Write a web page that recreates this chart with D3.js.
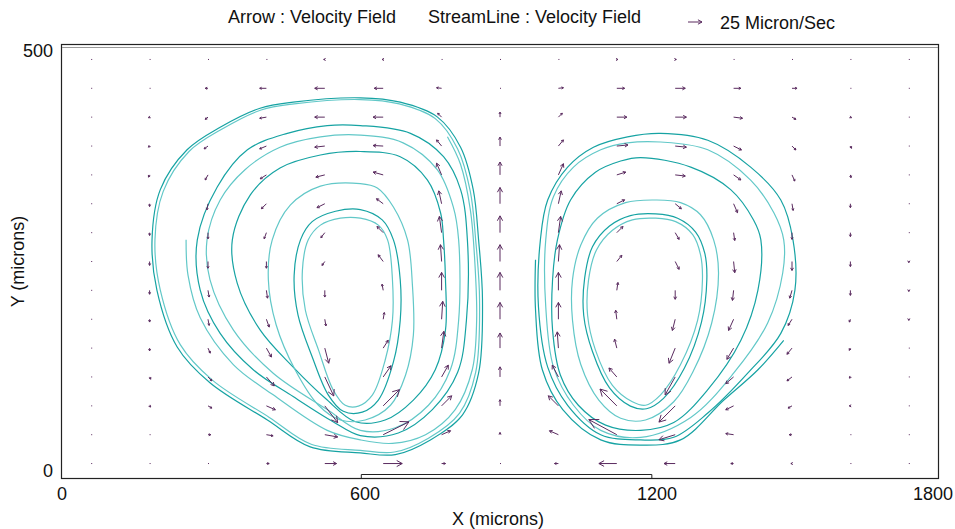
<!DOCTYPE html>
<html>
<head>
<meta charset="utf-8">
<script src="https://cdn.jsdelivr.net/npm/d3@7/dist/d3.min.js"></script>
<style>
body { margin: 0; background: #fff; }
text { font-family: "Liberation Sans", Arial, sans-serif; }
</style>
</head>
<body>
<div id="chart"></div>
<script>
// grid of arrow positions (microns)
var gridX = [60, 180, 300, 420, 540, 660, 780, 900, 1020, 1140, 1260, 1380, 1500, 1620, 1740];
var gridY = [483.3, 450, 416.7, 383.3, 350, 316.7, 283.3, 250, 216.7, 183.3, 150, 116.7, 83.3, 50, 16.7];

// velocity (micron/sec), rows top -> bottom
var velU = [
	[0,0,0,0,-2,-2,0,0,0,2,2,0,0,0,0],
	[0,0,-5,-12,-18,-16,-9,0,9,14,18,13,9,1,0],
	[0,-2,-5,-12,-18,-18,-7,0,7,18,20,16,7,2,0],
	[0,-2,-7,-12,-18,-18,-9,0,9,20,20,14,7,2,0],
	[0,-2,-5,-11,-16,-18,-9,0,9,16,18,13,5,1,0],
	[0,0,-2,-9,-14,-12,-5,0,5,14,11,7,2,0,0],
	[0,0,0,-4,-7,-11,-4,0,4,11,7,2,0,0,0],
	[0,0,0,0,-5,-9,-2,0,2,9,7,2,0,0,0],
	[0,0,2,2,0,-2,0,0,0,2,0,-2,-4,0,0],
	[0,0,2,5,2,2,2,0,0,-2,-5,-9,-7,-2,0],
	[0,0,4,9,7,9,4,0,-2,-4,-11,-12,-9,-2,0],
	[0,2,7,14,16,14,12,0,-11,-14,-18,-14,-9,-2,0],
	[0,2,7,16,23,29,18,0,-18,-30,-29,-14,-7,-2,0],
	[0,0,5,12,23,46,16,0,-16,-50,-29,-14,-5,-1,0],
	[0,0,0,5,21,34,7,0,-7,-32,-20,-5,-2,0,0]
];
var velV = [
	[0,0,0,0,0,0,0,0,0,0,0,0,0,0,0],
	[0,0,0,0,0,0,1,0,1,0,0,0,0,0,0],
	[0,-1,-4,-2,0,0,7,9,7,0,0,-2,-4,-1,0],
	[0,-2,-5,-5,-2,1,11,16,11,2,-2,-7,-7,-4,0],
	[0,-4,-9,-7,-4,5,21,23,20,5,-2,-9,-11,-5,0],
	[0,-5,-11,-9,-7,9,23,29,23,7,-9,-16,-12,-7,0],
	[0,-5,-11,-11,-9,11,29,30,29,11,-12,-14,-12,-7,0],
	[0,-7,-12,-12,-7,12,30,30,30,11,-14,-20,-16,-9,-2],
	[0,-7,-12,-14,-12,11,32,32,32,14,-16,-18,-14,-9,-2],
	[0,-5,-11,-14,-12,12,32,30,30,16,-20,-20,-11,-5,-2],
	[0,-5,-9,-16,-27,14,30,27,29,16,-27,-20,-11,-4,0],
	[0,-4,-7,-16,-34,20,21,18,21,16,-32,-12,-7,-2,0],
	[0,-2,-4,-7,-30,29,18,11,18,30,-29,-7,-4,0,0],
	[0,0,0,-2,-4,23,7,4,7,27,-9,2,0,0,0],
	[0,0,0,0,0,0,0,0,0,0,0,0,0,0,0]
];

// streamlines (microns)
var leftA1 = [[185,275],[202,333],[257,379],[325,405],[407,427],[475,434],[613,439],[695,434],[771,417],[819,382],[845,333],[856,275],[864,206],[856,121],[823,73],[757,44],[685,27],[613,29],[510,36],[422,67],[304,110],[237,151],[195,217]];
var leftA2 = [[191,275],[208,331],[261,377],[329,403],[409,425],[477,432],[613,437],[693,432],[767,415],[813,380],[839,331],[850,275],[858,206],[850,122],[817,75],[753,46],[683,30],[613,32],[512,39],[426,70],[309,113],[243,154],[202,217]];
var leftSpiral = [[792,394],[819,362],[839,310],[848,252],[852,182],[843,125],[808,79],[747,50],[679,40],[613,44],[545,55],[434,96],[352,131],[284,185],[259,234],[255,275]];
var leftB1 = [[278,275],[284,217],[325,167],[393,125],[475,94],[557,65],[613,49],[691,52],[761,79],[813,122],[831,182],[833,275],[819,333],[784,371],[716,398],[613,407],[545,407],[463,398],[381,379],[319,336]];
var leftB2 = [[298,275],[304,229],[352,171],[434,121],[545,79],[613,55],[685,58],[753,84],[798,125],[815,182],[815,275],[804,313],[771,356],[701,387],[613,396],[531,394],[448,382],[376,356],[325,321]];
var leftB3 = [[350,275],[360,225],[407,171],[475,128],[541,92],[603,65],[664,67],[722,90],[767,125],[788,171],[788,229],[784,275],[778,306],[751,344],[695,371],[613,377],[531,373],[448,358],[387,327]];
var leftC = [[432,275],[424,229],[440,177],[479,125],[527,84],[572,67],[623,67],[675,84],[706,119],[722,165],[720,223],[710,275],[681,313],[648,335],[613,340],[531,337],[469,315]];
var leftD1 = [[490,275],[477,234],[485,188],[514,140],[547,96],[578,77],[617,76],[650,90],[681,134],[695,182],[695,229],[681,275],[658,298],[613,310],[562,308],[514,296]];
var leftD2 = [[506,275],[494,240],[500,194],[527,148],[557,102],[582,84],[609,83],[638,96],[664,136],[679,182],[679,229],[669,275],[650,292],[613,300],[572,300],[531,292]];

var rightR1 = [[1092,382],[1162,394],[1230,398],[1327,390],[1415,359],[1477,321],[1502,275],[1506,217],[1477,167],[1409,121],[1327,75],[1257,47],[1189,44],[1107,50],[1039,84],[998,128],[979,198],[983,275],[998,321],[1039,359]];
var rightR2 = [[1107,379],[1162,387],[1230,388],[1327,379],[1415,344],[1463,306],[1483,275],[1481,237],[1450,179],[1380,121],[1292,70],[1189,47],[1107,55],[1051,84],[1010,128],[994,198],[994,275],[1010,325],[1051,359]];
var rightR3 = [[1189,370],[1292,359],[1374,333],[1421,298],[1436,275],[1430,217],[1395,159],[1327,102],[1257,64],[1189,55],[1117,61],[1061,84],[1024,119],[1008,171],[1008,229],[1018,275],[1045,321],[1096,353],[1148,366]];
var rightR4 = [[1220,321],[1271,318],[1312,304],[1339,275],[1349,237],[1335,179],[1296,122],[1257,88],[1199,67],[1148,69],[1103,90],[1066,131],[1049,182],[1049,229],[1066,269],[1100,300],[1158,318]];
var rightR5 = [[1220,305],[1265,300],[1302,284],[1321,259],[1325,229],[1314,180],[1279,127],[1236,92],[1201,80],[1168,83],[1125,104],[1090,146],[1072,188],[1074,231],[1090,267],[1125,291],[1168,303]];
var rightR6 = [[1220,300],[1261,296],[1296,281],[1312,258],[1316,229],[1306,182],[1271,131],[1230,96],[1199,84],[1172,88],[1131,107],[1096,148],[1080,188],[1082,229],[1098,263],[1131,286],[1172,298]];
var rightSpiral = [[1483,159],[1430,125],[1360,90],[1271,44],[1189,38],[1107,44],[1029,79],[987,125],[973,194],[973,252]];

var inlet = [615, 1212];
var xTicks = [0, 600, 1200, 1800];
var yTicks = [0, 500];
var legendValue = 25;

var width = 955, height = 529;
var margin = { top: 45, right: 17, bottom: 51, left: 62 };
var fontSize = 18;

var svg = d3.select('#chart').append('svg')
	.attr('width', width)
	.attr('height', height)
	.style('background-color', '#fff');

var xScale = d3.scaleLinear().domain([0, 1800]).range([margin.left, width - margin.right]);
var yScale = d3.scaleLinear().domain([0, 500]).range([height - margin.bottom, margin.top]);
// arrow length: 25 micron/sec -> 14px
var lenScale = d3.scaleLinear().domain([0, legendValue]).range([0, 14]);

var arrowColor = '#5a2b5f';
var tealDark = '#16a3a3';
var tealLight = '#62c8c8';

// streamlines
var lines = [
	{ pts: leftA2, closed: true }, { pts: leftA1, closed: true }, { pts: leftSpiral, closed: false },
	{ pts: leftB1, closed: true }, { pts: leftB2, closed: true }, { pts: leftB3, closed: true },
	{ pts: leftC, closed: true }, { pts: leftD1, closed: true }, { pts: leftD2, closed: true },
	{ pts: rightR1, closed: true }, { pts: rightR2, closed: true }, { pts: rightR3, closed: true },
	{ pts: rightR4, closed: true }, { pts: rightR5, closed: true }, { pts: rightR6, closed: true },
	{ pts: rightSpiral, closed: false }
];

var lineClosed = d3.line()
	.x(function(d) { return xScale(d[0]); })
	.y(function(d) { return yScale(d[1]); })
	.curve(d3.curveCatmullRomClosed.alpha(0.5));
var lineOpen = d3.line()
	.x(function(d) { return xScale(d[0]); })
	.y(function(d) { return yScale(d[1]); })
	.curve(d3.curveCatmullRom.alpha(0.5));

svg.append('g').selectAll('path')
	.data(lines)
	.enter().append('path')
		.attr('d', function(d) { return d.closed ? lineClosed(d.pts) : lineOpen(d.pts); })
		.attr('fill', 'none')
		.attr('stroke', function(d, i) { return i % 2 ? tealDark : tealLight; })
		.attr('stroke-width', 1.2);

// arrows
var cells = [];
for (var r = 0; r < gridY.length; r++) {
	for (var c = 0; c < gridX.length; c++) {
		cells.push({ x: gridX[c], y: gridY[r], u: velU[r][c], v: velV[r][c] });
	}
}

function arrowPath(x0, y0, dx, dy) {
	var L = Math.sqrt(dx * dx + dy * dy);
	if (L < 1) return 'M' + x0 + ',' + y0 + 'h1';
	var x1 = x0 + dx, y1 = y0 + dy;
	var a = Math.atan2(dy, dx);
	var h = Math.max(2.2, L * 0.33);
	var s = 0.5;
	return 'M' + x0 + ',' + y0 + 'L' + x1 + ',' + y1 +
		'M' + (x1 - h * Math.cos(a - s)) + ',' + (y1 - h * Math.sin(a - s)) + 'L' + x1 + ',' + y1 +
		'L' + (x1 - h * Math.cos(a + s)) + ',' + (y1 - h * Math.sin(a + s));
}

svg.append('g').selectAll('path')
	.data(cells)
	.enter().append('path')
		.attr('d', function(d) {
			return arrowPath(xScale(d.x), yScale(d.y), lenScale(d.u), -lenScale(d.v));
		})
		.attr('fill', 'none')
		.attr('stroke', arrowColor)
		.attr('stroke-width', 1);

// frame
var x0 = xScale(0), x1 = xScale(1800), yT = yScale(500), yB = yScale(0);
svg.append('rect')
	.attr('x', x0 - 0.5).attr('y', yT - 0.5)
	.attr('width', x1 - x0 + 1).attr('height', yB - yT + 1)
	.attr('fill', 'none').attr('stroke', '#222').attr('stroke-width', 1.2);
svg.append('line')
	.attr('x1', x0).attr('x2', x1)
	.attr('y1', yT + 2.5).attr('y2', yT + 2.5)
	.attr('stroke', '#999').attr('stroke-width', 1);

// inlet
svg.append('path')
	.attr('d', 'M' + xScale(inlet[0]) + ',' + yB + 'V' + (yB - 3.5) + 'H' + xScale(inlet[1]) + 'V' + yB)
	.attr('fill', 'none').attr('stroke', '#222').attr('stroke-width', 1);

// tick labels
svg.append('g').selectAll('text')
	.data(xTicks)
	.enter().append('text')
		.attr('x', function(d) {
			if (d == 1800) return width - 2;
			return xScale(d) + (d > 0 ? 11 : 0);
		})
		.attr('y', yB + 22)
		.attr('text-anchor', function(d) { return d == 1800 ? 'end' : 'middle'; })
		.attr('font-size', fontSize)
		.attr('fill', '#111')
		.text(function(d) { return d; });

svg.append('g').selectAll('text')
	.data(yTicks)
	.enter().append('text')
		.attr('x', margin.left - 9)
		.attr('y', function(d) { return d == 0 ? yScale(d) - 1 : yScale(d) + 12; })
		.attr('text-anchor', 'end')
		.attr('font-size', fontSize)
		.attr('fill', '#111')
		.text(function(d) { return d; });

// axis titles
svg.append('text')
	.attr('x', (x0 + x1) / 2 - 2)
	.attr('y', 525)
	.attr('text-anchor', 'middle')
	.attr('font-size', fontSize)
	.attr('fill', '#111')
	.text('X (microns)');

svg.append('text')
	.attr('transform', 'translate(24,' + ((yT + yB) / 2) + ') rotate(-90)')
	.attr('text-anchor', 'middle')
	.attr('font-size', fontSize)
	.attr('fill', '#111')
	.text('Y (microns)');

// header
svg.append('text').attr('x', 228).attr('y', 23).attr('font-size', fontSize).attr('fill', '#111')
	.text('Arrow : Velocity Field');
svg.append('text').attr('x', 428).attr('y', 23).attr('font-size', fontSize).attr('fill', '#111')
	.text('StreamLine : Velocity Field');

svg.append('path')
	.attr('d', arrowPath(688, 22, lenScale(legendValue), 0))
	.attr('fill', 'none').attr('stroke', arrowColor).attr('stroke-width', 1);
svg.append('text').attr('x', 720).attr('y', 29).attr('font-size', fontSize).attr('fill', '#111')
	.text(legendValue + ' Micron/Sec');
</script>
</body>
</html>
